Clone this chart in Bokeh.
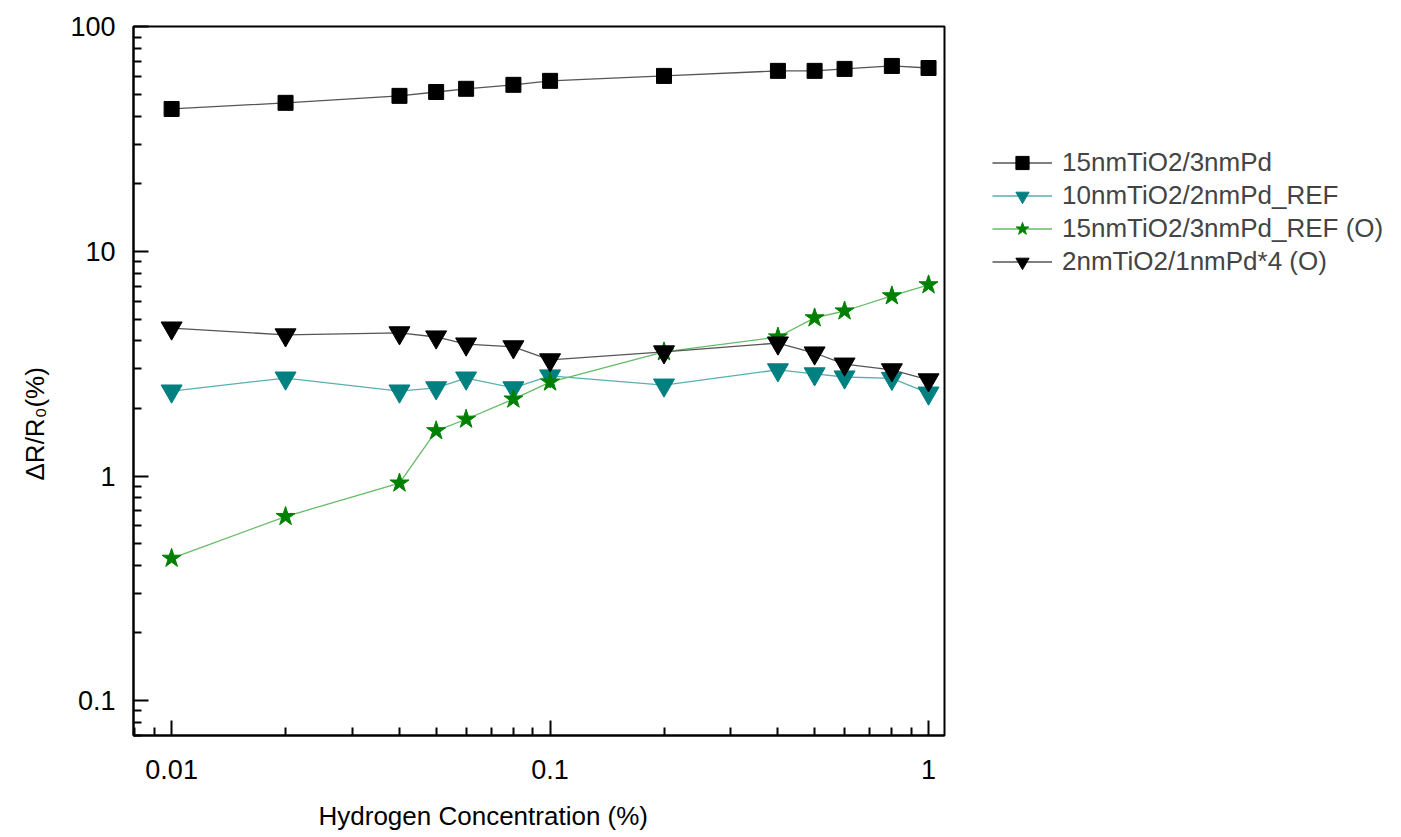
from bokeh.plotting import figure
from bokeh.models import FixedTicker, Legend, LegendItem, Title
from bokeh.embed import file_html
from bokeh.resources import INLINE

# ---- data ----
conc = [0.01, 0.02, 0.04, 0.05, 0.06, 0.08, 0.1, 0.2, 0.4, 0.5, 0.6, 0.8, 1.0]
s_15_3 = [43.1, 45.9, 49.3, 51.3, 53.0, 55.2, 57.5, 60.5, 63.7, 63.7, 65.0, 67.0, 65.6]
s_10_2_ref = [2.39, 2.73, 2.39, 2.47, 2.73, 2.47, 2.79, 2.54, 2.97, 2.85, 2.76, 2.72, 2.34]
s_15_3_ref_o = [0.43, 0.66, 0.93, 1.59, 1.79, 2.2, 2.62, 3.57, 4.16, 5.06, 5.43, 6.34, 7.1]
s_2_1x4_o = [4.56, 4.25, 4.34, 4.16, 3.87, 3.76, 3.29, 3.57, 3.91, 3.53, 3.15, 2.97, 2.68]
names = ["15nmTiO2/3nmPd", "10nmTiO2/2nmPd_REF", "15nmTiO2/3nmPd_REF (O)", "2nmTiO2/1nmPd*4 (O)"]
x_ticks = [0.01, 0.1, 1]
y_ticks = [0.1, 1, 10, 100]
x_label = "Hydrogen Concentration (%)"
y_label = "\u0394R/R\u2080(%)"

FONT = "Liberation Sans"

p = figure(frame_width=811, frame_height=709, x_axis_type="log", y_axis_type="log",
           x_range=(0.00793, 1.102), y_range=(0.0699, 100.4),
           output_backend="svg", toolbar_location=None,
           min_border_left=133, min_border_right=83, min_border_top=26, min_border_bottom=102)
p.xgrid.visible = False
p.ygrid.visible = False
p.outline_line_color = "black"
p.outline_line_width = 2
p.background_fill_color = "white"

def minors(lo, hi):
    out = []
    for e in range(lo, hi):
        for k in range(2, 10):
            out.append(k * 10.0 ** e)
    return out

p.xaxis.ticker = FixedTicker(ticks=x_ticks, minor_ticks=minors(-3, 1))
p.yaxis.ticker = FixedTicker(ticks=y_ticks, minor_ticks=minors(-2, 2))
p.xaxis.major_label_overrides = {t: ("%g" % t) for t in x_ticks}
p.yaxis.major_label_overrides = {t: ("%g" % t) for t in y_ticks}

for ax in (p.xaxis, p.yaxis):
    ax.axis_line_width = 2
    ax.axis_line_color = "black"
    ax.major_tick_in = 15
    ax.major_tick_out = 0
    ax.minor_tick_in = 8
    ax.minor_tick_out = 0
    ax.major_tick_line_width = 2
    ax.minor_tick_line_width = 2
    ax.major_tick_line_color = "black"
    ax.minor_tick_line_color = "black"
    ax.major_label_text_font = FONT
    ax.major_label_text_font_size = "27px"
    ax.major_label_text_color = "black"
p.xaxis.major_label_standoff = 24
p.yaxis.major_label_standoff = 18

# series
l1 = p.line(conc, s_15_3, line_color="#555555", line_width=1.3)
m1 = p.scatter(conc, s_15_3, marker="square", size=15, fill_color="black", line_color="black")
l2 = p.line(conc, s_10_2_ref, line_color="#5aafaf", line_width=1.3)
m2 = p.scatter(conc, s_10_2_ref, marker="inverted_triangle", size=21, fill_color="#008080", line_color="#008080")
l3 = p.line(conc, s_15_3_ref_o, line_color="#66bb66", line_width=1.3)
m3 = p.scatter(conc, s_15_3_ref_o, marker="star", size=20, fill_color="#008000", line_color="#008000")
l4 = p.line(conc, s_2_1x4_o, line_color="#555555", line_width=1.3)
m4 = p.scatter(conc, s_2_1x4_o, marker="inverted_triangle", size=21, fill_color="black", line_color="black")

legend = Legend(items=[
    LegendItem(label=names[0], renderers=[l1, m1]),
    LegendItem(label=names[1], renderers=[l2, m2]),
    LegendItem(label=names[2], renderers=[l3, m3]),
    LegendItem(label=names[3], renderers=[l4, m4]),
], location=(48, 457), padding=0, margin=0, spacing=0,
    glyph_width=60, glyph_height=33, label_height=33, label_standoff=10,
    label_text_font=FONT, label_text_font_size="26px",
    border_line_color=None, background_fill_alpha=0)
p.add_layout(legend, "right")

# axis titles
p.add_layout(Title(text=x_label, align="left", offset=185, standoff=35,
                   text_font=FONT, text_font_size="26px", text_font_style="normal",
                   text_color="black"), "below")
p.add_layout(Title(text=y_label, align="left", offset=255, standoff=35,
                   text_font=FONT, text_font_size="26px", text_font_style="normal",
                   text_color="black"), "left")

open("out.html", "w").write(file_html(p, INLINE))
